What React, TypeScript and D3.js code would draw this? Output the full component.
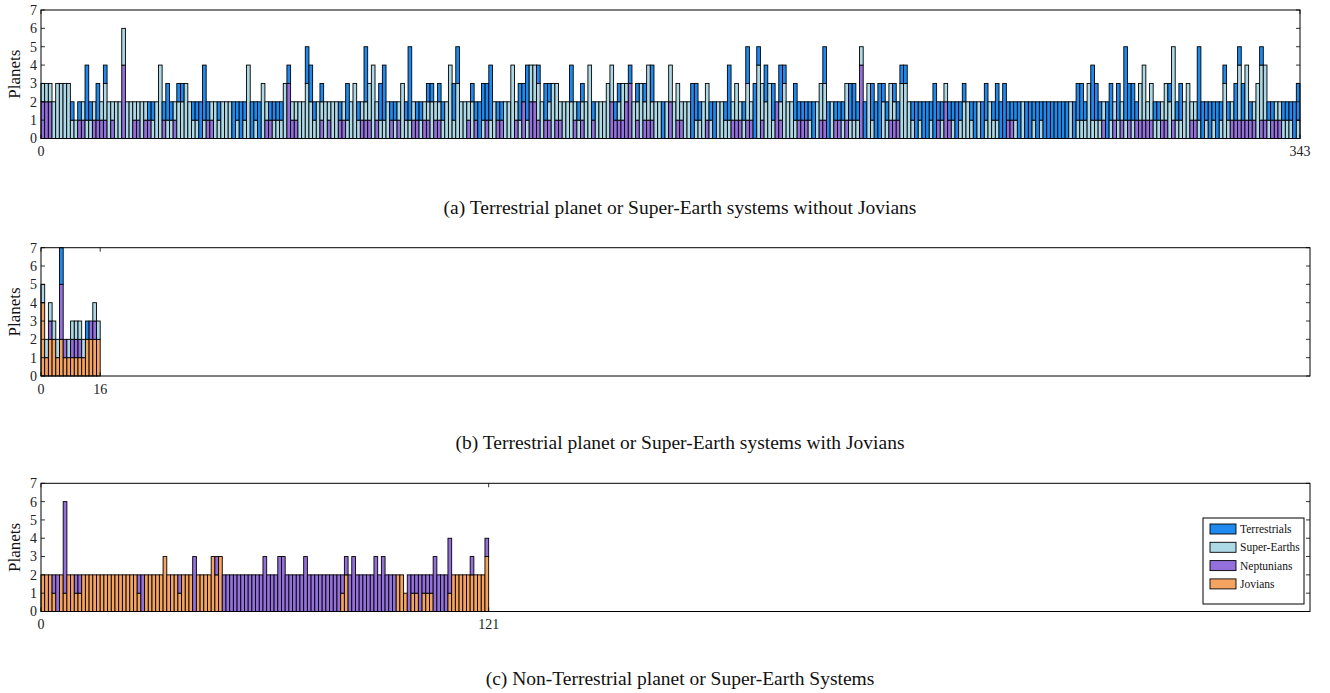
import React from 'react';
import * as d3 from 'd3';

// Planet types, bottom-to-top stacking codes and their fills
const typeNames = ['Terrestrials', 'Super-Earths', 'Neptunians', 'Jovians'];
const typeCodes = ['T', 'S', 'N', 'J'];
const typeColors: Record<string, string> = {
  T: '#1e8af0',
  S: '#add8e6',
  N: '#9370db',
  J: '#f4a460',
};

const yTicks = [0, 1, 2, 3, 4, 5, 6, 7];

// Each entry is one system; each letter one planet, listed from the bottom of the bar up
const systemsA = [
  'NNS', 'NNS', 'NNS', 'SS', 'SSS', 'SSS', 'SSS', 'SSS', 'ST', 'S',
  'NT', 'NS', 'STTT', 'ST', 'NS', 'NTT', 'NS', 'NSST', 'SS', 'NS',
  'SS', 'SS', 'NNNNSS', 'SS', 'SS', 'NS', 'NS', 'SS', 'NS', 'NT',
  'ST', 'SS', 'SSSS', 'NT', 'STT', 'ST', 'NS', 'SST', 'SST', 'SSS',
  'SS', 'ST', 'ST', 'TT', 'STTT', 'NT', 'NS', 'SS', 'ST', 'SS',
  'SS', 'SS', 'TT', 'ST', 'TT', 'ST', 'SSSS', 'TT', 'ST', 'TT',
  'SSS', 'NS', 'NT', 'ST', 'ST', 'ST', 'SSS', 'NNNT', 'NS', 'NS',
  'SS', 'SS', 'SSSTT', 'SSTT', 'ST', 'SS', 'NST', 'SS', 'NS', 'SS',
  'SS', 'NT', 'NS', 'STT', 'SS', 'SSS', 'ST', 'NS', 'NSTTT', 'NSS',
  'SSSS', 'NS', 'STT', 'STTT', 'SS', 'NT', 'ST', 'NS', 'SSS', 'ST',
  'STTTT', 'NS', 'NT', 'ST', 'NS', 'NST', 'SST', 'NS', 'NST', 'ST',
  'SS', 'SSSS', 'STT', 'SSSTT', 'SS', 'SS', 'NS', 'SST', 'NT', 'TT',
  'STT', 'NTT', 'STTT', 'SS', 'NT', 'NT', 'SS', 'SS', 'SSSS', 'NS',
  'STT', 'NNT', 'STTT', 'NNSS', 'NNSS', 'NSST', 'SS', 'NTT', 'NST', 'SSS',
  'NSS', 'NS', 'SS', 'SS', 'SSTT', 'NS', 'ST', 'NST', 'SS', 'SSSS',
  'NT', 'SS', 'SS', 'SS', 'SSS', 'NNSS', 'NT', 'NST', 'NSS', 'NNS',
  'NNNT', 'SS', 'NST', 'SSS', 'NST', 'NSSS', 'NSTT', 'SS', 'SS', 'TT',
  'SS', 'NNSS', 'SS', 'NSS', 'NS', 'SS', 'SS', 'TTT', 'STT', 'ST',
  'SS', 'NSS', 'ST', 'TT', 'SS', 'SS', 'ST', 'STTT', 'NS', 'NSS',
  'NS', 'ST', 'NSSTT', 'NS', 'TTT', 'SSSST', 'NSS', 'SSTT', 'SSS', 'STT',
  'NN', 'NSTT', 'SSST', 'SS', 'SS', 'STT', 'NT', 'NT', 'NT', 'ST',
  'TT', 'SS', 'NSS', 'NSSTT', 'TT', 'SS', 'NT', 'NT', 'ST', 'NSS',
  'STT', 'STT', 'ST', 'NNNNS', 'TT', 'SSS', 'STT', 'TT', 'TTT', 'SST',
  'ST', 'NSS', 'NST', 'NT', 'SSST', 'SSST', 'SS', 'ST', 'TT', 'ST',
  'TT', 'TT', 'ST', 'TTT', 'NT', 'ST', 'NNS', 'NT', 'ST', 'TT',
  'ST', 'SST', 'SS', 'ST', 'TT', 'SS', 'TT', 'STT', 'SS', 'ST',
  'STT', 'TT', 'TTT', 'NT', 'NT', 'ST', 'TT', 'SS', 'TT', 'TT',
  'ST', 'TT', 'ST', 'TT', 'TT', 'TT', 'TT', 'TT', 'TT', 'TT',
  'SS', 'TT', 'STT', 'STT', 'ST', 'SSS', 'STTT', 'STT', 'ST', 'NS',
  'TT', 'STT', 'NS', 'STT', 'NS', 'STTTT', 'NTT', 'STT', 'NT', 'NSS',
  'NSSS', 'NS', 'NSS', 'ST', 'ST', 'NS', 'NSS', 'SST', 'NSSSS', 'ST',
  'STT', 'SS', 'SSS', 'NS', 'NS', 'STTTT', 'TT', 'ST', 'TT', 'ST',
  'TT', 'ST', 'SSST', 'ST', 'NS', 'NTT', 'NSSST', 'NTT', 'NSSS', 'NT',
  'NS', 'SSS', 'NSSST', 'NSSS', 'ST', 'NT', 'NS', 'NS', 'ST', 'ST',
  'ST', 'TT', 'STT',
];

const systemsB = [
  'JJJJS', 'JS', 'JJNS', 'JJS', 'JS', 'JJNNNTT', 'JN', 'JS',
  'JNS', 'JNS', 'JNS', 'JS', 'JJT', 'JJN', 'JJNS', 'JJS',
];

const systemsC = [
  'JJ', 'JJ', 'JJ', 'JN', 'NN', 'JJ', 'JNNNNN', 'JJ', 'JJ', 'JN',
  'JN', 'JJ', 'JJ', 'JJ', 'JJ', 'JJ', 'JJ', 'JJ', 'JJ', 'JJ',
  'JJ', 'JJ', 'JJ', 'JJ', 'JJ', 'JJ', 'JN', 'NN', 'JJ', 'JJ',
  'JJ', 'JJ', 'JJ', 'JJJ', 'JJ', 'JJ', 'JJ', 'JN', 'JJ', 'JJ',
  'JJ', 'NNN', 'JJ', 'JJ', 'JJ', 'JJ', 'JJJ', 'JJN', 'JJJ', 'NN',
  'NN', 'NN', 'NN', 'NN', 'NN', 'NN', 'NN', 'NN', 'NN', 'NN',
  'NNN', 'NN', 'NN', 'NN', 'NNN', 'NNN', 'NN', 'NN', 'NN', 'NN',
  'NN', 'NNN', 'NN', 'NN', 'NN', 'NN', 'NN', 'NN', 'NN', 'NN',
  'NN', 'JN', 'JJN', 'NN', 'NNN', 'NN', 'NN', 'NN', 'NN', 'NN',
  'NNN', 'NN', 'NNN', 'NN', 'NN', 'NN', 'JJ', 'JJ', 'J', 'NN',
  'JN', 'JN', 'NN', 'JN', 'JN', 'JN', 'NNN', 'NN', 'NN', 'NN',
  'JNNN', 'JJ', 'JJ', 'JJ', 'JJ', 'JJ', 'JJN', 'JJ', 'JJ', 'JJ',
  'JJJN',
];

const captions = [
  '(a) Terrestrial planet or Super-Earth systems without Jovians',
  '(b) Terrestrial planet or Super-Earth systems with Jovians',
  '(c) Non-Terrestrial planet or Super-Earth Systems',
];

const FONT = "'Liberation Serif', 'DejaVu Serif', serif";
const LEFT = 41;

type PanelSpec = {
  systems: string[];
  top: number;
  bottom: number;
  right: number;
  xMax: number;
  caption: string;
  captionY: number;
  legend: boolean;
};

const panels: PanelSpec[] = [
  { systems: systemsA, top: 10, bottom: 138.5, right: 1300, xMax: 343, caption: captions[0], captionY: 207, legend: false },
  { systems: systemsB, top: 247.7, bottom: 376, right: 1310, xMax: 343, caption: captions[1], captionY: 442, legend: false },
  { systems: systemsC, top: 483.3, bottom: 611.5, right: 1310, xMax: 343, caption: captions[2], captionY: 678, legend: true },
];

// Collapse a system string into contiguous same-type segments
function segments(sys: string) {
  const out: { t: string; y0: number; y1: number }[] = [];
  let h = 0;
  for (const ch of sys) {
    const last = out[out.length - 1];
    if (last && last.t === ch) last.y1 += 1;
    else out.push({ t: ch, y0: h, y1: h + 1 });
    h += 1;
  }
  return out;
}

function Panel({ p }: { p: PanelSpec }) {
  const x = d3.scaleLinear().domain([0, p.xMax]).range([LEFT, p.right]);
  const y = d3.scaleLinear().domain([0, 7]).range([p.bottom, p.top]);
  const n = p.systems.length;
  const xTicks = [0, n];
  const midY = (p.top + p.bottom) / 2;

  return (
    <g>
      {p.systems.map((sys, i) =>
        segments(sys).map((s, k) => (
          <rect
            key={`${i}-${k}`}
            x={x(i)}
            width={x(i + 1) - x(i)}
            y={y(s.y1)}
            height={y(s.y0) - y(s.y1)}
            fill={typeColors[s.t]}
            stroke="#000"
            strokeWidth={0.9}
          />
        ))
      )}
      <rect x={LEFT} y={p.top} width={p.right - LEFT} height={p.bottom - p.top} fill="none" stroke="#000" strokeWidth={1} />
      {yTicks.map((t) => (
        <g key={`y${t}`}>
          <line x1={LEFT} x2={LEFT + 4} y1={y(t)} y2={y(t)} stroke="#000" strokeWidth={0.8} />
          <line x1={p.right - 4} x2={p.right} y1={y(t)} y2={y(t)} stroke="#000" strokeWidth={0.8} />
          <text x={LEFT - 4} y={y(t)} dy="0.35em" textAnchor="end" fontFamily={FONT} fontSize={14} fill="#222">
            {t}
          </text>
        </g>
      ))}
      {xTicks.map((t) => (
        <g key={`x${t}`}>
          <line x1={x(t)} x2={x(t)} y1={p.bottom} y2={p.bottom - 4} stroke="#000" strokeWidth={0.8} />
          <line x1={x(t)} x2={x(t)} y1={p.top} y2={p.top + 4} stroke="#000" strokeWidth={0.8} />
          <text x={x(t)} y={p.bottom + 13} dy="0.35em" textAnchor="middle" fontFamily={FONT} fontSize={14} fill="#222">
            {t}
          </text>
        </g>
      ))}
      <text
        transform={`translate(14,${midY}) rotate(-90)`}
        textAnchor="middle"
        dy="0.35em"
        fontFamily={FONT}
        fontSize={17}
        fill="#111"
      >
        Planets
      </text>
      <text x={680} y={p.captionY} dy="0.35em" textAnchor="middle" fontFamily={FONT} fontSize={19.5} fill="#111">
        {p.caption}
      </text>
      {p.legend && (
        <g>
          <rect x={1203} y={518} width={101} height={86} fill="#fff" stroke="#000" strokeWidth={1} />
          {typeCodes.map((c, k) => {
            const cy = 529 + k * 18.3;
            return (
              <g key={c}>
                <rect x={1210} y={cy - 5} width={26} height={10} fill={typeColors[c]} stroke="#000" strokeWidth={0.9} />
                <text x={1240} y={cy} dy="0.35em" fontFamily={FONT} fontSize={11.5} fill="#111">
                  {typeNames[k]}
                </text>
              </g>
            );
          })}
        </g>
      )}
    </g>
  );
}

export default function App() {
  return (
    <div style={{ position: 'absolute', left: 0, top: 0 }}>
      <svg width={1330} height={693} style={{ display: 'block', background: '#fff' }}>
        {panels.map((p, i) => (
          <Panel key={i} p={p} />
        ))}
      </svg>
    </div>
  );
}
